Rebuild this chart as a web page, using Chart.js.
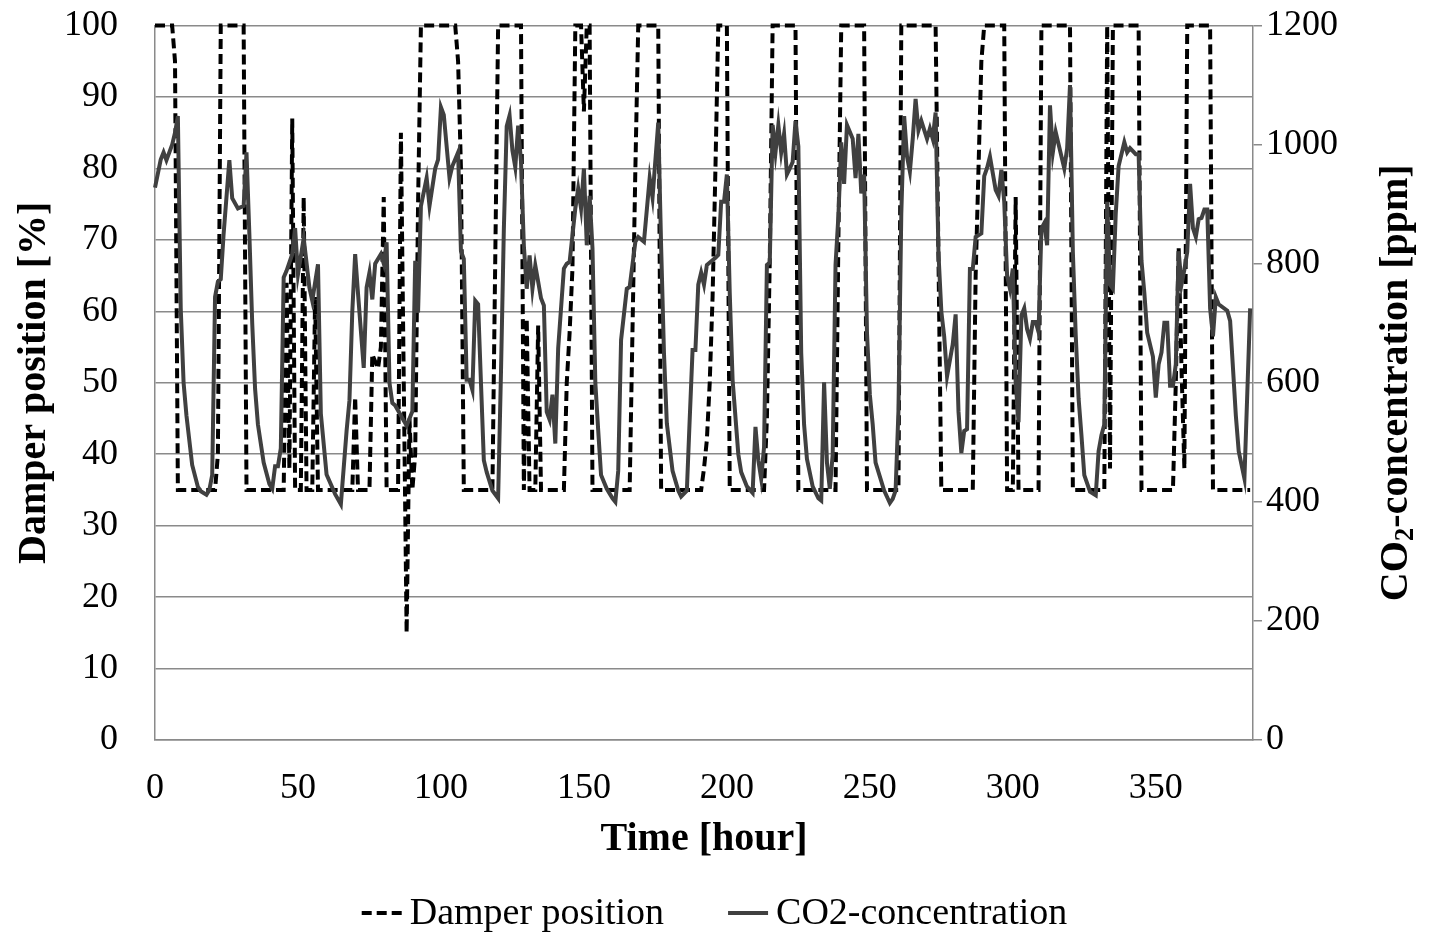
<!DOCTYPE html>
<html>
<head>
<meta charset="utf-8">
<title>Damper position and CO2-concentration</title>
<script src="https://cdn.jsdelivr.net/npm/chart.js@4.4.1/dist/chart.umd.min.js"></script>
<style>
    html, body { margin: 0; padding: 0; background: #ffffff; }
    #wrap { width: 1429px; height: 935px; }
</style>
</head>
<body>
<div id="wrap"><canvas id="chart" width="1429" height="935"></canvas></div>
<script>
// Damper position [%] (hour, value) - vertices
const damperHours = [
    0, 6, 7, 8, 21, 22, 23, 31, 32, 45,
    46, 47, 48, 49, 51, 52, 53, 55, 56, 57,
    69, 70, 71, 75, 76, 78, 79, 80, 81, 85,
    86, 88, 89, 90, 91, 92, 93, 105, 106, 107,
    108, 118, 120, 128, 129, 130, 131, 133, 134, 135,
    143, 144, 145, 146, 147, 149, 150, 151, 152, 153,
    166, 168, 169, 176, 177, 191, 192, 193, 194, 195,
    196, 197, 200, 201, 213, 214, 215, 216, 224, 225,
    238, 239, 240, 248, 249, 260, 261, 273, 275, 286,
    287, 288, 289, 290, 297, 298, 300, 301, 302, 309,
    310, 320, 321, 332, 333, 334, 335, 344, 345, 356,
    357, 358, 359, 360, 361, 369, 370, 383
];
const damperValues = [
    100, 100, 95, 35, 35, 40, 100, 100, 35, 35,
    64, 38, 87, 35, 35, 76, 35, 35, 62, 35,
    35, 48, 35, 35, 54, 52, 55, 76, 35, 35,
    85, 15, 45, 35, 40, 75, 100, 100, 95, 80,
    35, 35, 100, 100, 35, 59, 35, 35, 58, 35,
    35, 50, 57, 66, 100, 100, 88, 100, 100, 35,
    35, 80, 100, 100, 35, 35, 38, 42, 50, 62,
    80, 100, 100, 35, 35, 45, 67, 100, 100, 35,
    35, 70, 100, 100, 35, 35, 100, 100, 35, 35,
    65, 80, 95, 100, 100, 35, 35, 76, 35, 35,
    100, 100, 35, 35, 100, 38, 100, 100, 35, 35,
    50, 69, 52, 38, 100, 100, 35, 35
];

// CO2-concentration [ppm] (hour, value)
const co2Hours = [
    0, 2, 3, 4, 6, 7, 8, 9, 10, 11,
    13, 15, 16, 18, 19, 20, 21, 22, 23, 24,
    26, 27, 29, 31, 32, 33, 34, 35, 36, 38,
    40, 41, 42, 43, 44, 45, 46, 48, 49, 50,
    52, 54, 55, 57, 58, 60, 63, 65, 67, 68,
    69, 70, 71, 73, 74, 75, 76, 77, 79, 80,
    81, 82, 83, 84, 88, 90, 91, 92, 93, 95,
    96, 98, 99, 100, 101, 103, 104, 106, 107, 108,
    109, 110, 111, 112, 113, 114, 115, 116, 118, 120,
    121, 122, 123, 124, 125, 126, 127, 128, 129, 130,
    131, 132, 133, 134, 135, 136, 137, 138, 139, 140,
    141, 143, 144, 145, 147, 148, 149, 150, 151, 152,
    153, 154, 155, 156, 158, 160, 161, 162, 163, 165,
    166, 168, 169, 171, 173, 174, 176, 177, 178, 179,
    181, 183, 184, 186, 187, 188, 189, 190, 191, 192,
    193, 196, 197, 198, 199, 200, 201, 202, 204, 205,
    207, 209, 210, 211, 212, 213, 214, 215, 216, 217,
    218, 219, 220, 221, 222, 223, 224, 225, 226, 227,
    228, 230, 232, 233, 234, 235, 236, 237, 238, 239,
    240, 241, 242, 244, 245, 246, 247, 248, 249, 250,
    251, 252, 255, 257, 258, 259, 260, 261, 262, 263,
    264, 265, 266, 267, 268, 269, 270, 271, 272, 273,
    274, 275, 276, 277, 278, 279, 280, 281, 282, 283,
    284, 285, 286, 287, 289, 290, 291, 292, 294, 295,
    296, 297, 298, 299, 300, 301, 302, 303, 304, 305,
    306, 307, 308, 309, 310, 311, 312, 313, 314, 315,
    318, 319, 320, 321, 322, 323, 324, 325, 327, 329,
    330, 331, 332, 333, 334, 335, 336, 337, 339, 340,
    341, 343, 344, 345, 346, 347, 349, 350, 351, 352,
    353, 354, 355, 356, 357, 358, 359, 360, 361, 362,
    363, 364, 365, 366, 367, 368, 369, 370, 371, 372,
    375, 376, 378, 379, 381, 383
];
const co2Values = [
    928, 975, 987, 974, 1000, 1020, 1048, 725, 600, 545,
    462, 425, 418, 412, 420, 445, 744, 770, 774, 850,
    974, 910, 893, 897, 987, 850, 700, 590, 530, 466,
    430, 422, 460, 460, 490, 777, 788, 816, 860, 782,
    843, 760, 738, 799, 548, 446, 413, 396, 519, 570,
    720, 816, 750, 625, 760, 785, 740, 800, 816, 800,
    836, 600, 566, 562, 528, 552, 805, 718, 897, 944,
    897, 960, 975, 1063, 1050, 944, 964, 987, 821, 808,
    605, 605, 588, 738, 732, 600, 470, 450, 419, 406,
    618, 858, 1031, 1049, 990, 962, 1032, 971, 830, 758,
    814, 758, 797, 770, 742, 730, 551, 538, 580, 498,
    658, 792, 800, 803, 893, 926, 893, 960, 831, 914,
    826, 600, 520, 445, 422, 406, 400, 452, 672, 758,
    761, 837, 845, 837, 944, 911, 1037, 830, 650, 532,
    452, 419, 409, 419, 539, 655, 655, 765, 785, 765,
    798, 810, 815, 904, 904, 950, 751, 605, 480, 450,
    426, 415, 526, 470, 439, 492, 798, 802, 1033, 987,
    1033, 987, 1018, 950, 960, 971, 1040, 997, 650, 530,
    472, 426, 406, 402, 601, 466, 422, 479, 798, 880,
    1004, 934, 1033, 1010, 944, 1018, 918, 950, 684, 580,
    530, 466, 419, 398, 405, 419, 552, 884, 1048, 980,
    955, 1010, 1077, 1024, 1040, 1025, 1010, 1027, 1010, 1054,
    817, 720, 678, 611, 638, 665, 715, 552, 482, 519,
    522, 791, 791, 845, 851, 947, 961, 980, 924, 914,
    958, 904, 780, 758, 792, 601, 534, 713, 725, 690,
    674, 702, 702, 685, 859, 868, 831, 1066, 987, 1021,
    960, 994, 1100, 820, 680, 574, 512, 445, 417, 411,
    485, 512, 530, 904, 765, 758, 884, 964, 1004, 987,
    994, 984, 984, 805, 751, 684, 644, 575, 631, 651,
    701, 701, 595, 595, 631, 821, 765, 790, 820, 934,
    860, 845, 875, 877, 891, 891, 725, 678, 744, 732,
    721, 704, 545, 485, 439, 725
];

// Tick labels
const hourTicks = [0, 50, 100, 150, 200, 250, 300, 350];
const damperTicks = [0, 10, 20, 30, 40, 50, 60, 70, 80, 90, 100];
const co2Ticks = [0, 200, 400, 600, 800, 1000, 1200];

document.addEventListener("DOMContentLoaded", () => {
    const SERIF = "'Liberation Serif', 'Times New Roman', serif";
    const GRID = "#8a8a8a";

    // Draws the right axis title and the legend
    const extrasPlugin = {
        id: "extras",
        afterDraw: (chart) => {
            const ctx = chart.ctx;
            const area = chart.chartArea;

            // Right axis title: reads bottom to top, "2" as subscript
            ctx.save();
            ctx.fillStyle = "#000000";
            ctx.textBaseline = "middle";
            const parts = [
                { text: "CO", font: `bold 40px ${SERIF}`, dy: 0 },
                { text: "2", font: `bold 27px ${SERIF}`, dy: 9 },
                { text: "-concentration [ppm]", font: `bold 40px ${SERIF}`, dy: 0 },
            ];
            let total = 0;
            parts.forEach((p) => {
                ctx.font = p.font;
                p.w = ctx.measureText(p.text).width;
                total += p.w;
            });
            ctx.translate(1397, (area.top + area.bottom) / 2);
            ctx.rotate(-Math.PI / 2);
            let x = -total / 2;
            parts.forEach((p) => {
                ctx.font = p.font;
                ctx.fillText(p.text, x, p.dy);
                x += p.w;
            });
            ctx.restore();

            // Legend
            const items = chart.data.datasets.map((ds) => ({
                label: ds.label,
                color: ds.borderColor,
                width: ds.borderWidth,
                dash: ds.borderDash || [],
            }));
            const sample = 40; // three dashes of 10 with gaps of 5
            const gap = 8;
            const spacing = 64;
            ctx.save();
            ctx.font = `38px ${SERIF}`;
            ctx.textBaseline = "middle";
            items.forEach((it) => { it.w = ctx.measureText(it.label).width; });
            const legendWidth = items.reduce((s, it) => s + sample + gap + it.w, 0) + spacing * (items.length - 1);
            let lx = (chart.width - legendWidth) / 2;
            const ly = 913;
            items.forEach((it) => {
                ctx.beginPath();
                ctx.setLineDash(it.dash);
                ctx.lineWidth = it.width;
                ctx.strokeStyle = it.color;
                ctx.moveTo(lx, ly);
                ctx.lineTo(lx + sample, ly);
                ctx.stroke();
                ctx.setLineDash([]);
                ctx.fillStyle = "#000000";
                ctx.fillText(it.label, lx + sample + gap, ly + 1);
                lx += sample + gap + it.w + spacing;
            });
            ctx.restore();
        },
    };

    const plainTick = (value) => String(value);

    const ctx = document.getElementById("chart").getContext("2d");
    new Chart(ctx, {
        type: "line",
        data: {
            datasets: [
                {
                    label: "Damper position",
                    data: damperHours.map((h, i) => ({ x: h, y: damperValues[i] })),
                    yAxisID: "y",
                    borderColor: "#000000",
                    borderWidth: 4,
                    borderDash: [10, 5],
                    pointRadius: 0,
                    tension: 0,
                    clip: 4,
                    order: 1,
                },
                {
                    label: "CO2-concentration",
                    data: co2Hours.map((h, i) => ({ x: h, y: co2Values[i] })),
                    yAxisID: "y2",
                    borderColor: "#404040",
                    borderWidth: 4,
                    pointRadius: 0,
                    tension: 0,
                    clip: 4,
                    order: 0,
                },
            ],
        },
        options: {
            responsive: false,
            animation: false,
            devicePixelRatio: 1,
            layout: { padding: { top: 25, left: 0, right: 0, bottom: 0 } },
            plugins: {
                legend: { display: false },
                tooltip: { enabled: false },
            },
            scales: {
                x: {
                    type: "linear",
                    min: 0,
                    max: 384,
                    afterBuildTicks: (scale) => { scale.ticks = hourTicks.map((v) => ({ value: v })); },
                    afterFit: (scale) => { scale.height = 195; },
                    grid: { display: false, drawTicks: false },
                    border: { display: true, color: GRID, width: 1.5 },
                    ticks: { color: "#000000", font: { family: SERIF, size: 36 }, padding: 27, maxRotation: 0, callback: plainTick },
                    title: {
                        display: true,
                        text: "Time [hour]",
                        color: "#000000",
                        font: { family: SERIF, size: 40, weight: "bold" },
                        padding: { top: 0, bottom: 71 },
                    },
                },
                y: {
                    position: "left",
                    min: 0,
                    max: 100,
                    afterBuildTicks: (scale) => { scale.ticks = damperTicks.map((v) => ({ value: v })); },
                    afterFit: (scale) => { scale.width = 155; },
                    // invisible tick marks keep the labels away from the axis
                    grid: { color: GRID, lineWidth: 1.5, drawTicks: true, tickLength: 33, tickColor: "rgba(0,0,0,0)" },
                    border: { display: true, color: GRID, width: 1.5 },
                    ticks: { color: "#000000", font: { family: SERIF, size: 36 }, padding: 4, callback: plainTick },
                    title: {
                        display: true,
                        text: "Damper position [%]",
                        color: "#000000",
                        font: { family: SERIF, size: 40, weight: "bold" },
                        padding: { top: 11, bottom: 0 },
                    },
                },
                y2: {
                    position: "right",
                    min: 0,
                    max: 1200,
                    afterBuildTicks: (scale) => { scale.ticks = co2Ticks.map((v) => ({ value: v })); },
                    afterFit: (scale) => { scale.width = 176; },
                    grid: { drawOnChartArea: false, color: GRID, lineWidth: 1.5, drawTicks: true, tickLength: 9 },
                    border: { display: true, color: GRID, width: 1.5 },
                    ticks: { color: "#000000", font: { family: SERIF, size: 36 }, padding: 4, callback: plainTick },
                },
            },
        },
        plugins: [extrasPlugin],
    });
});
</script>
</body>
</html>
